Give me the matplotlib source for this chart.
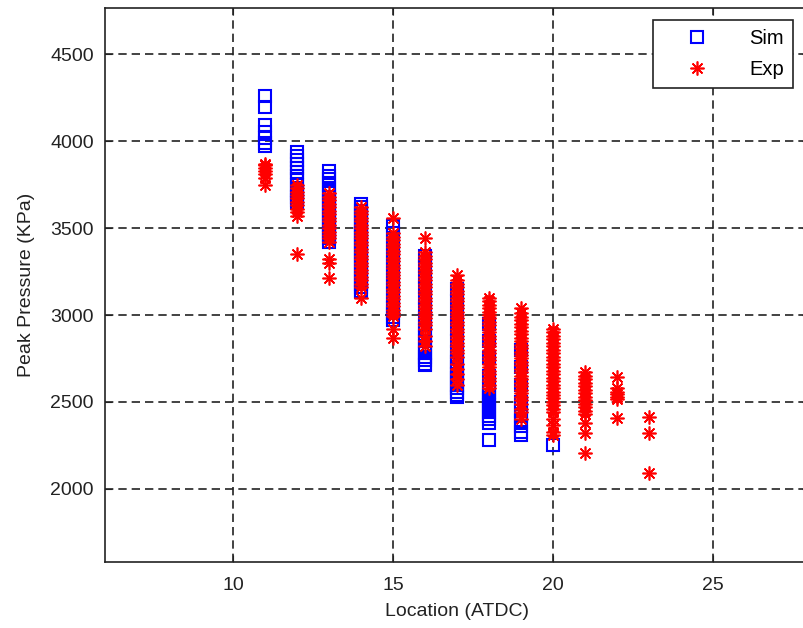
import numpy as np
import matplotlib.pyplot as plt

plt.rcParams['font.family'] = ['Liberation Sans', 'DejaVu Sans']

# peak pressure values (KPa) read per crank location (ATDC)
sim_11 = [4260, 4195, 4090, 4050, 4020, 3990, 3970]
sim_12 = [3940, 3915, 3890, 3870, 3845, 3820, 3800, 3780, 3750, 3720, 3700, 3680, 3660, 3645]
sim_13 = [3830, 3800, 3780, 3750, 3720, 3700, 3680, 3660, 3640, 3620, 3600, 3580,
          3560, 3540, 3520, 3500, 3480, 3460, 3440, 3420]
sim_14 = [3640, 3620, 3600, 3580, 3560, 3540, 3520, 3500, 3480, 3460, 3440, 3420, 3400,
          3380, 3360, 3340, 3320, 3300, 3280, 3260, 3240, 3220, 3200, 3180, 3160, 3140, 3130]
sim_15 = [3510, 3470, 3430, 3390, 3350, 3310, 3270, 3230, 3190, 3150, 3110, 3070,
          3040, 3010, 2990, 2970]
sim_16 = [3340, 3280, 3220, 3160, 3100, 3040, 2980, 2940, 2910, 2880, 2850, 2820,
          2800, 2780, 2760, 2740, 2720, 2710]
sim_17 = [3150, 3080, 3000, 2920, 2850, 2790, 2760, 2730, 2700, 2680, 2660, 2640,
          2620, 2600, 2580, 2560, 2540, 2530]
sim_18 = [2950, 2850, 2750, 2650, 2580, 2560, 2540, 2520, 2500, 2480, 2460, 2440,
          2420, 2400, 2380, 2280]
sim_19 = [2800, 2700, 2600, 2500, 2450, 2420, 2390, 2360, 2330, 2310]
sim_20 = [2253]

exp_11 = [3870, 3860, 3845, 3830, 3810, 3790, 3750]
exp_12 = [3750, 3730, 3710, 3690, 3670, 3650, 3630, 3610, 3590, 3570, 3350]
exp_13 = [3700, 3680, 3660, 3640, 3620, 3600, 3580, 3560, 3540, 3520, 3500, 3480,
          3460, 3440, 3420, 3320, 3300, 3210]
exp_14 = [3620, 3600, 3580, 3560, 3540, 3520, 3500, 3480, 3460, 3440, 3420, 3400,
          3380, 3360, 3340, 3320, 3300, 3280, 3260, 3240, 3220, 3200, 3180, 3160, 3100]
exp_15 = [3560, 3470, 3450, 3430, 3410, 3390, 3370, 3350, 3330, 3310, 3290, 3270,
          3250, 3230, 3210, 3190, 3170, 3150, 3130, 3110, 3090, 3070, 3050, 3030,
          3010, 2995, 2920, 2870]
exp_16 = [3440, 3360, 3340, 3320, 3300, 3280, 3260, 3240, 3220, 3200, 3180, 3160,
          3140, 3120, 3100, 3080, 3060, 3040, 3020, 3000, 2980, 2960, 2940, 2920,
          2880, 2850, 2820]
exp_17 = [3230, 3200, 3180, 3160, 3140, 3120, 3100, 3080, 3060, 3040, 3020, 3000,
          2980, 2960, 2940, 2920, 2900, 2880, 2860, 2840, 2820, 2800, 2780, 2760,
          2720, 2690, 2660, 2630, 2600]
exp_18 = [3100, 3080, 3060, 3040, 3020, 3000, 2980, 2960, 2940, 2920, 2900, 2880,
          2860, 2840, 2820, 2800, 2780, 2760, 2740, 2720, 2700, 2680, 2660, 2640,
          2620, 2600, 2580]
exp_19 = [3040, 3010, 2990, 2970, 2950, 2930, 2910, 2890, 2870, 2850, 2830, 2810,
          2790, 2770, 2750, 2730, 2710, 2690, 2670, 2650, 2630, 2610, 2590, 2570,
          2550, 2530, 2510, 2490, 2460, 2440, 2400]
exp_20 = [2920, 2900, 2880, 2860, 2840, 2820, 2800, 2780, 2760, 2740, 2720, 2700,
          2680, 2660, 2640, 2620, 2600, 2580, 2560, 2540, 2520, 2500, 2480, 2460,
          2440, 2400, 2370, 2330, 2310]
exp_21 = [2670, 2650, 2630, 2610, 2590, 2570, 2550, 2530, 2510, 2490, 2470, 2450,
          2430, 2380, 2320, 2207]
exp_22 = [2644, 2580, 2560, 2545, 2530, 2515, 2408]
exp_23 = [2414, 2322, 2092]

sim_groups = {11: sim_11, 12: sim_12, 13: sim_13, 14: sim_14, 15: sim_15,
              16: sim_16, 17: sim_17, 18: sim_18, 19: sim_19, 20: sim_20}
exp_groups = {11: exp_11, 12: exp_12, 13: exp_13, 14: exp_14, 15: exp_15,
              16: exp_16, 17: exp_17, 18: exp_18, 19: exp_19, 20: exp_20,
              21: exp_21, 22: exp_22, 23: exp_23}

sim_x = np.concatenate([[k] * len(v) for k, v in sim_groups.items()])
sim_y = np.concatenate([v for v in sim_groups.values()])
exp_x = np.concatenate([[k] * len(v) for k, v in exp_groups.items()])
exp_y = np.concatenate([v for v in exp_groups.values()])

fig = plt.figure(figsize=(8.04, 6.28), dpi=100)
ax = fig.add_axes([105/804, 66/628, 704/804, 554/628])

ax.plot(sim_x, sim_y, 's', color='blue', mfc='none', ms=8.5, mew=1.5, label='Sim')
ax.plot(exp_x, exp_y, marker=(8, 2, 0), ls='none', color='red', ms=10, mew=1.2, label='Exp')

ax.set_xlim(6, 28)
ax.set_ylim(1580, 4765)
ax.set_xticks([10, 15, 20, 25])
ax.set_yticks([2000, 2500, 3000, 3500, 4000, 4500])
ax.grid(True, color='#222222', ls=(0, (5, 3)), lw=1.2)
ax.tick_params(direction='in', length=5, top=True, right=True, labelsize=14,
               colors='#222222')
ax.tick_params(axis='x', pad=11)
ax.tick_params(axis='y', pad=8)
for s in ax.spines.values():
    s.set_linewidth(1.2)
    s.set_color('#222222')

ax.set_xlabel('Location (ATDC)', fontsize=14, color='#222222', labelpad=6)
ax.set_ylabel('Peak Pressure (KPa)', fontsize=14, color='#222222', labelpad=11)

leg = ax.legend(loc='upper right', bbox_to_anchor=(0.977, 0.978), fontsize=14.5,
                handlelength=3.4, handletextpad=0.9, borderpad=0.45, labelspacing=0.6,
                fancybox=False, framealpha=1, edgecolor='#222222', borderaxespad=0)
leg.get_frame().set_linewidth(1.2)

plt.savefig('out.png', dpi=100)
